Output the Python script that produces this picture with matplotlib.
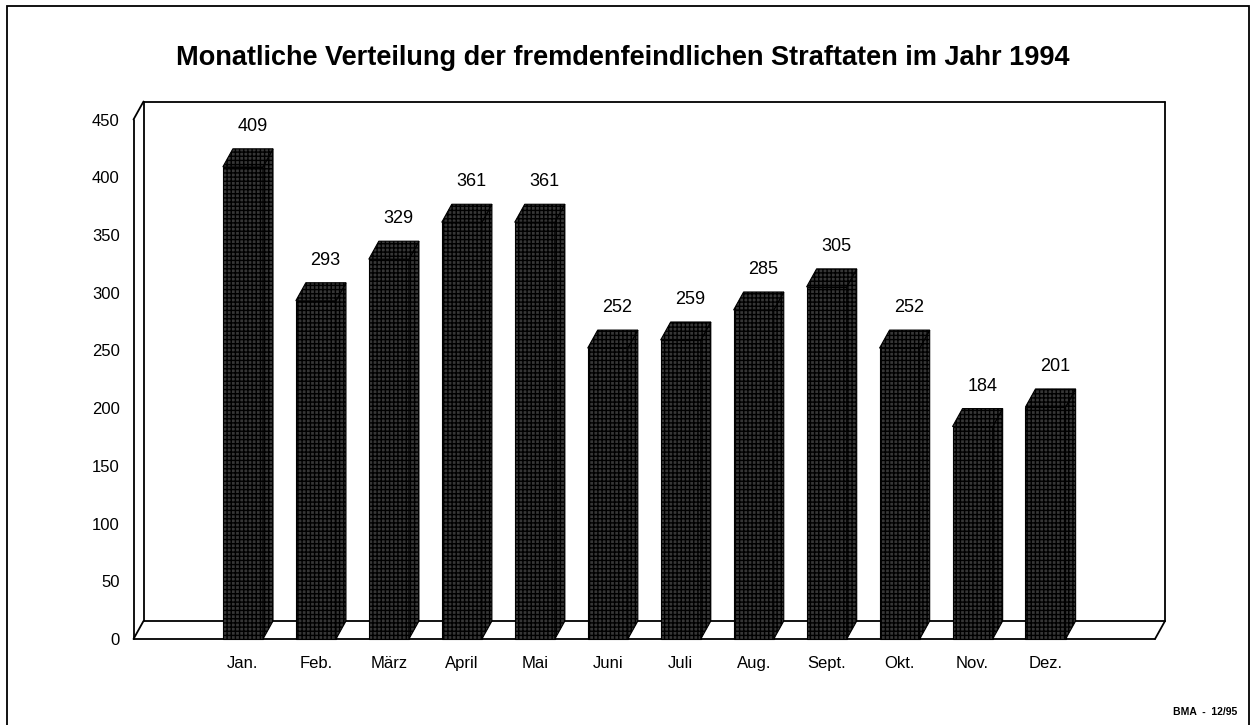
import matplotlib.pyplot as plt
from matplotlib.patches import Polygon, Rectangle

months = ['Jan.', 'Feb.', 'März', 'April', 'Mai', 'Juni',
          'Juli', 'Aug.', 'Sept.', 'Okt.', 'Nov.', 'Dez.']
cases = [409, 293, 329, 361, 361, 252, 259, 285, 305, 252, 184, 201]
yticks = [0, 50, 100, 150, 200, 250, 300, 350, 400, 450]

plt.rcParams['font.family'] = ['Liberation Sans', 'DejaVu Sans']
plt.rcParams['hatch.linewidth'] = 1.0

W, H = 1251, 725
fig = plt.figure(figsize=(W / 100, H / 100), dpi=100)
fig.patch.set_facecolor('white')

# front plane of the 3D box, in pixels
left_px, right_px, bottom_px, top_px = 133.5, 1155, 639, 119.5
ax = fig.add_axes([left_px / W, (H - bottom_px) / H,
                   (right_px - left_px) / W, (bottom_px - top_px) / H])
xmin, xmax, ymax = -1.5, 12.5, 450
ax.set_xlim(xmin, xmax)
ax.set_ylim(0, ymax)

# depth offset (10 px right, 18 px up) in data units
DX = 10 * (xmax - xmin) / (right_px - left_px)
DY = 18 * ymax / (bottom_px - top_px)

for s in ax.spines.values():
    s.set_visible(False)
ax.set_xticks(range(len(months)))
ax.set_xticklabels(months, fontsize=12)
ax.set_yticks(yticks)
ax.set_yticklabels([str(t) for t in yticks], fontsize=12)
ax.tick_params(axis='y', length=0, pad=10)
ax.tick_params(axis='x', length=0, pad=12)

# walls and floor
lc = dict(color='black', lw=1.3, zorder=1, clip_on=False, solid_capstyle='round')
ax.plot([xmin, xmax], [0, 0], **lc)
ax.plot([xmin + DX, xmax + DX], [DY, DY], **lc)
ax.plot([xmin, xmin], [0, ymax], **lc)
ax.plot([xmin + DX, xmin + DX], [DY, ymax + DY], **lc)
ax.plot([xmin + DX, xmax + DX], [ymax + DY, ymax + DY], **lc)
ax.plot([xmax + DX, xmax + DX], [DY, ymax + DY], **lc)
ax.plot([xmin, xmin + DX], [ymax, ymax + DY], **lc)
ax.plot([xmin, xmin + DX], [0, DY], **lc)
ax.plot([xmax, xmax + DX], [0, DY], **lc)

# bars with side and top faces
bw = 0.55
face = '#363636'
style = dict(facecolor=face, edgecolor='black', hatch='++++', linewidth=0.8,
             zorder=3, clip_on=False)
ax.bar(range(len(months)), cases, width=bw, **style)
for i, v in enumerate(cases):
    l, r = i - bw / 2, i + bw / 2
    side = Polygon([(r, 0), (r + DX, DY), (r + DX, v + DY), (r, v)], **style)
    top = Polygon([(l, v), (l + DX, v + DY), (r + DX, v + DY), (r, v)], **style)
    ax.add_patch(side)
    ax.add_patch(top)
    ax.annotate(str(v), (i, v), xytext=(7, 23), textcoords='offset points',
                ha='center', va='bottom', fontsize=13)

fig.text(0.498, 1 - 58 / H,
         'Monatliche Verteilung der fremdenfeindlichen Straftaten im Jahr 1994',
         ha='center', va='center', fontsize=19.5, fontweight='bold')
fig.text(1237 / W, 1 - 712 / H, 'BMA  -  12/95', ha='right', va='center',
         fontsize=7.5, fontweight='bold')

# outer frame
fig.add_artist(Rectangle((7 / W, -0.02), (1249 - 7) / W, (H - 6) / H + 0.02,
                         transform=fig.transFigure, fill=False,
                         edgecolor='black', lw=1.3))

fig.savefig('out.png', dpi=100)
